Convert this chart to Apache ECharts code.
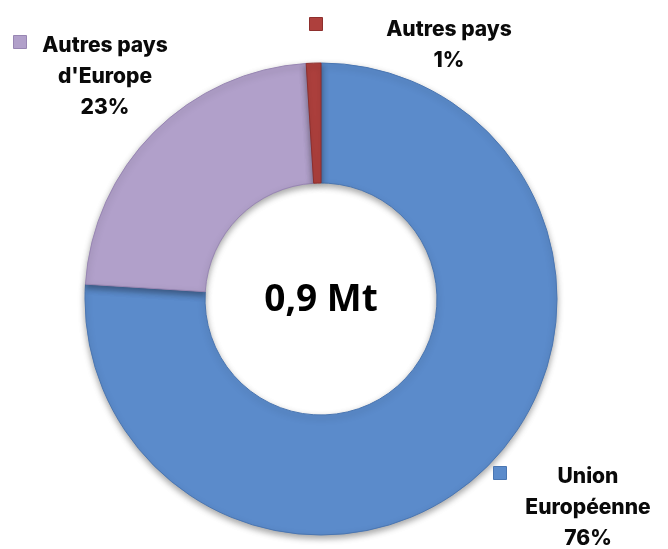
<!DOCTYPE html>
<html>
<head>
<meta charset="utf-8">
<script src="https://cdn.jsdelivr.net/npm/echarts@6/dist/echarts.min.js"></script>
<style>
  html, body { margin: 0; padding: 0; background: #ffffff; }
  #chart { width: 668px; height: 549px; }
</style>
</head>
<body>
<div id="chart"></div>
<script>
// Destination split of the 0,9 Mt total
const categories = ['Union Européenne', "Autres pays d'Europe", 'Autres pays'];
const labelLines = [['Union', 'Européenne'], ['Autres pays', "d'Europe"], ['Autres pays']];
const shares = [76, 23, 1];
const totalLabel = '0,9 Mt';

const colors = ['#5B8BCB', '#B1A0CA', '#AE403D'];
const edgeColors = ['#4A76B2', '#9886B3', '#8E2F2D'];

const CENTER = [321, 299];

// Where each data label block and its legend key sit
const labelSpots = [
  { x: 588, y: 508 },
  { x: 105, y: 77 },
  { x: 449, y: 45 }
];
const keySpots = [
  { left: 493, top: 466 },
  { left: 13, top: 35 },
  { left: 309, top: 17 }
];

const LABEL_FONT = 'Inter, "Open Sans", sans-serif';
const CENTER_FONT = '"Open Sans", "Noto Sans", sans-serif';

const chart = echarts.init(document.getElementById('chart'));

const pieData = categories.map((name, i) => ({
  name: name,
  value: shares[i],
  itemStyle: {
    color: colors[i],
    borderColor: edgeColors[i],
    borderWidth: 1
  }
}));

const legends = categories.map((name, i) => ({
  data: [name],
  left: keySpots[i].left,
  top: keySpots[i].top,
  padding: 0,
  icon: 'rect',
  itemWidth: 13,
  itemHeight: 13,
  selectedMode: false,
  formatter: () => '',
  itemStyle: { borderColor: edgeColors[i], borderWidth: 1 }
}));

chart.setOption({
  backgroundColor: '#ffffff',
  animation: false,
  legend: legends,
  graphic: [{
    type: 'text',
    x: CENTER[0],
    y: CENTER[1] + 1,
    style: {
      text: totalLabel,
      font: 'bold 37px ' + CENTER_FONT,
      fill: '#000000',
      align: 'center',
      verticalAlign: 'middle'
    }
  }],
  series: [{
    type: 'pie',
    center: CENTER,
    radius: [116, 236],
    startAngle: 90,
    clockwise: true,
    avoidLabelOverlap: false,
    data: pieData,
    itemStyle: {
      shadowColor: 'rgba(0,0,0,0.35)',
      shadowBlur: 6,
      shadowOffsetY: 3
    },
    emphasis: { disabled: true },
    labelLine: { show: false },
    label: {
      show: true,
      position: 'outside',
      fontFamily: LABEL_FONT,
      fontWeight: 800,
      fontSize: 21,
      lineHeight: 31,
      color: '#0a0a0a',
      align: 'center',
      formatter: (p) => labelLines[p.dataIndex].concat([p.value + '%']).join('\n')
    },
    labelLayout: (p) => ({
      x: labelSpots[p.dataIndex].x,
      y: labelSpots[p.dataIndex].y,
      align: 'center',
      verticalAlign: 'middle'
    })
  }]
});
</script>
</body>
</html>
